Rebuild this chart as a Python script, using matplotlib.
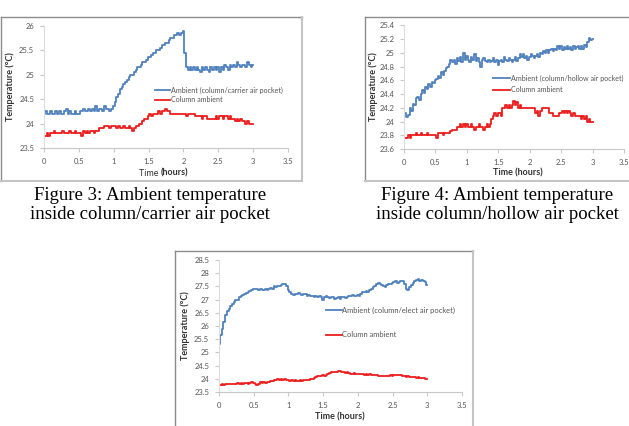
import numpy as np
import matplotlib.pyplot as plt
from matplotlib.lines import Line2D

# sampling grid (hours), 0.025 h step
t = np.round(np.arange(121) * 0.025, 3)

# Figure 3: column / carrier air pocket
carrier_pocket = [
    24.2, 24.25, 24.2, 24.2, 24.25, 24.2, 24.2, 24.25, 24.2, 24.25,
    24.2, 24.2, 24.25, 24.3, 24.2, 24.25, 24.2, 24.2, 24.25, 24.2,
    24.2, 24.25, 24.25, 24.3, 24.25, 24.25, 24.3, 24.25, 24.3, 24.25,
    24.35, 24.25, 24.3, 24.3, 24.25, 24.35, 24.3, 24.3, 24.25, 24.3,
    24.35, 24.45, 24.55, 24.6, 24.7, 24.75, 24.8, 24.85, 24.9, 24.95,
    25.0, 25.0, 25.05, 25.1, 25.15, 25.15, 25.2, 25.25, 25.25, 25.3,
    25.35, 25.35, 25.4, 25.45, 25.45, 25.5, 25.5, 25.55, 25.6, 25.6,
    25.65, 25.65, 25.7, 25.75, 25.75, 25.8, 25.8, 25.85, 25.8, 25.85,
    25.9, 25.45, 25.15, 25.1, 25.15, 25.1, 25.15, 25.1, 25.15, 25.1,
    25.05, 25.15, 25.1, 25.15, 25.1, 25.05, 25.15, 25.1, 25.15, 25.1,
    25.15, 25.05, 25.15, 25.1, 25.2, 25.15, 25.1, 25.2, 25.15, 25.2,
    25.15, 25.25, 25.2, 25.15, 25.2, 25.2, 25.15, 25.25, 25.2, 25.15,
    25.2]
column_3 = [
    23.75, 23.75, 23.8, 23.75, 23.8, 23.8, 23.85, 23.8, 23.8, 23.8,
    23.8, 23.85, 23.8, 23.8, 23.8, 23.85, 23.8, 23.8, 23.85, 23.8,
    23.8, 23.8, 23.75, 23.85, 23.8, 23.85, 23.8, 23.85, 23.85, 23.8,
    23.85, 23.85, 23.9, 23.9, 23.9, 23.95, 23.95, 23.95, 23.9, 23.95,
    23.95, 23.95, 23.9, 23.95, 23.9, 23.9, 23.95, 23.9, 23.9, 23.95,
    23.9, 23.85, 23.9, 23.95, 23.95, 24.0, 24.0, 24.05, 24.1, 24.1,
    24.15, 24.2, 24.15, 24.2, 24.2, 24.2, 24.25, 24.2, 24.25, 24.25,
    24.3, 24.25, 24.25, 24.2, 24.2, 24.2, 24.2, 24.2, 24.2, 24.2,
    24.2, 24.2, 24.15, 24.2, 24.2, 24.2, 24.2, 24.15, 24.15, 24.15,
    24.15, 24.1, 24.15, 24.15, 24.1, 24.1, 24.1, 24.1, 24.1, 24.15,
    24.1, 24.15, 24.15, 24.1, 24.15, 24.15, 24.1, 24.15, 24.1, 24.1,
    24.05, 24.1, 24.05, 24.1, 24.05, 24.05, 24.0, 24.05, 24.0, 24.0,
    24.0]

# Figure 4: column / hollow air pocket
hollow_pocket = [
    24.12, 24.12, 24.06, 24.1, 24.2, 24.16, 24.26, 24.24, 24.34, 24.36,
    24.32, 24.4, 24.46, 24.42, 24.5, 24.48, 24.54, 24.5, 24.58, 24.56,
    24.6, 24.62, 24.66, 24.64, 24.72, 24.68, 24.74, 24.78, 24.8, 24.84,
    24.9, 24.86, 24.9, 24.84, 24.92, 24.88, 24.94, 24.86, 25.0, 24.9,
    24.96, 24.9, 24.86, 24.94, 24.9, 24.98, 24.88, 24.92, 24.86, 24.8,
    24.9, 24.92, 24.88, 24.86, 24.9, 24.86, 24.88, 24.92, 24.86, 24.9,
    24.82, 24.88, 24.9, 24.86, 24.94, 24.9, 24.88, 24.92, 24.9, 24.86,
    24.9, 24.94, 24.88, 24.92, 24.98, 24.94, 24.98, 24.92, 24.96, 24.9,
    24.94, 24.98, 24.96, 24.92, 24.96, 24.98, 24.94, 25.0, 24.98, 25.02,
    25.0, 25.04, 25.0, 25.04, 25.06, 25.02, 25.06, 25.04, 25.1, 25.06,
    25.1, 25.04, 25.08, 25.06, 25.1, 25.06, 25.08, 25.04, 25.1, 25.06,
    25.08, 25.1, 25.06, 25.1, 25.06, 25.12, 25.08, 25.16, 25.22, 25.18,
    25.2]
column_4 = [
    23.76, 23.76, 23.76, 23.8, 23.76, 23.8, 23.8, 23.8, 23.84, 23.8,
    23.8, 23.84, 23.8, 23.8, 23.8, 23.84, 23.8, 23.8, 23.8, 23.8,
    23.8, 23.76, 23.84, 23.84, 23.84, 23.8, 23.84, 23.84, 23.84, 23.84,
    23.86, 23.88, 23.88, 23.88, 23.92, 23.92, 23.96, 23.92, 23.96, 23.92,
    23.96, 23.92, 23.92, 23.96, 23.92, 23.88, 23.92, 23.92, 23.96, 23.92,
    23.92, 23.88, 23.92, 23.96, 23.92, 23.96, 24.04, 24.08, 24.12, 24.08,
    24.12, 24.12, 24.08, 24.2, 24.2, 24.24, 24.2, 24.24, 24.2, 24.24,
    24.3, 24.24, 24.28, 24.2, 24.24, 24.2, 24.2, 24.2, 24.2, 24.2,
    24.2, 24.2, 24.2, 24.2, 24.12, 24.16, 24.08, 24.16, 24.2, 24.2,
    24.2, 24.2, 24.2, 24.12, 24.12, 24.08, 24.08, 24.08, 24.08, 24.12,
    24.12, 24.16, 24.12, 24.16, 24.12, 24.16, 24.12, 24.08, 24.12, 24.08,
    24.08, 24.08, 24.08, 24.04, 24.08, 24.04, 24.08, 24.0, 24.04, 24.0,
    24.0]

# Figure 5: column / elect air pocket
elect_pocket = [
    25.3, 25.65, 25.9, 26.15, 26.4, 26.55, 26.65, 26.75, 26.85, 26.9,
    26.98, 27.0, 27.08, 27.12, 27.18, 27.22, 27.25, 27.3, 27.32, 27.35,
    27.4, 27.42, 27.4, 27.38, 27.42, 27.38, 27.35, 27.4, 27.35, 27.4,
    27.45, 27.42, 27.5, 27.48, 27.52, 27.5, 27.55, 27.58, 27.6, 27.5,
    27.38, 27.3, 27.22, 27.18, 27.22, 27.2, 27.25, 27.2, 27.18, 27.22,
    27.2, 27.15, 27.18, 27.12, 27.15, 27.1, 27.12, 27.08, 27.12, 27.1,
    27.0, 27.08, 27.12, 27.1, 27.05, 27.1, 27.08, 27.02, 27.05, 27.08,
    27.04, 27.08, 27.1, 27.06, 27.1, 27.15, 27.12, 27.18, 27.15, 27.12,
    27.18, 27.15, 27.22, 27.3, 27.28, 27.32, 27.3, 27.38, 27.42, 27.48,
    27.5, 27.58, 27.62, 27.58, 27.55, 27.5, 27.48, 27.55, 27.6, 27.58,
    27.62, 27.65, 27.7, 27.62, 27.68, 27.7, 27.72, 27.6, 27.42, 27.38,
    27.48, 27.55, 27.62, 27.7, 27.75, 27.78, 27.72, 27.75, 27.72, 27.68,
    27.55]
column_5 = [
    23.75, 23.75, 23.8, 23.78, 23.8, 23.82, 23.8, 23.82, 23.82, 23.8,
    23.82, 23.84, 23.82, 23.84, 23.82, 23.84, 23.84, 23.82, 23.84, 23.86,
    23.84, 23.82, 23.76, 23.82, 23.86, 23.84, 23.86, 23.84, 23.86, 23.88,
    23.9, 23.92, 23.94, 23.96, 23.98, 23.96, 23.98, 23.96, 23.98, 23.96,
    23.94, 23.92, 23.94, 23.92, 23.94, 23.92, 23.9, 23.94, 23.92, 23.94,
    23.96, 23.94, 23.96, 23.98, 24.0, 24.02, 24.08, 24.1, 24.12, 24.1,
    24.14, 24.12, 24.16, 24.2, 24.22, 24.24, 24.26, 24.24, 24.26, 24.28,
    24.3, 24.26, 24.24, 24.22, 24.24, 24.22, 24.2, 24.2, 24.22, 24.2,
    24.2, 24.18, 24.2, 24.18, 24.16, 24.18, 24.16, 24.18, 24.16, 24.14,
    24.16, 24.14, 24.12, 24.1, 24.12, 24.1, 24.12, 24.1, 24.12, 24.14,
    24.12, 24.14, 24.16, 24.14, 24.16, 24.14, 24.12, 24.1, 24.08, 24.1,
    24.06, 24.08, 24.06, 24.08, 24.04, 24.06, 24.04, 24.02, 24.02, 24.0,
    24.0]

x_ticks = [0, 0.5, 1, 1.5, 2, 2.5, 3, 3.5]
x_labels = ['0', '0.5', '1', '1.5', '2', '2.5', '3', '3.5']
y_ticks_3 = [23.5, 24, 24.5, 25, 25.5, 26]
y_ticks_4 = [23.6, 23.8, 24, 24.2, 24.4, 24.6, 24.8, 25, 25.2, 25.4]
y_ticks_5 = [23.5, 24, 24.5, 25, 25.5, 26, 26.5, 27, 27.5, 28, 28.5]

BLUE = '#4f81bd'
RED = '#ee1c1c'
W, H = 629, 426

plt.rcParams['font.family'] = ['Lato', 'DejaVu Sans']
fig = plt.figure(figsize=(6.29, 4.26), dpi=100)


def px(x0, y0, x1, y1):
    # pixel box (top-left origin) -> figure fraction rect
    return [x0 / W, 1 - y1 / H, (x1 - x0) / W, (y1 - y0) / H]


def frame(x0, y0, x1, y1):
    xs = [x0 / W, x1 / W]
    ys = [1 - y0 / H, 1 - y1 / H]
    fig.add_artist(Line2D([xs[0], xs[1]], [ys[0], ys[0]], color='#8c8c8c', lw=1))
    fig.add_artist(Line2D([xs[0], xs[0]], [ys[0], ys[1]], color='#8c8c8c', lw=1))
    fig.add_artist(Line2D([xs[1], xs[1]], [ys[0], ys[1]], color='#c4c4c4', lw=1.5))
    fig.add_artist(Line2D([xs[0], xs[1]], [ys[1], ys[1]], color='#c4c4c4', lw=1.5))


def panel(box, blue, red, yticks, ylabels, blue_name, leg_xy, leg_space, leg_fs, leg_hl):
    ax = fig.add_axes(px(*box))
    ax.plot(t, blue, color=BLUE, lw=1.3, drawstyle='steps-mid', label=blue_name)
    ax.plot(t, red, color=RED, lw=1.3, drawstyle='steps-mid', label='Column ambient')
    ax.set_xlim(0, 3.5)
    ax.set_ylim(yticks[0], yticks[-1])
    ax.set_xticks(x_ticks)
    ax.set_xticklabels(x_labels)
    ax.set_yticks(yticks)
    ax.set_yticklabels(ylabels)
    for s in ['top', 'right']:
        ax.spines[s].set_visible(False)
    ax.spines['bottom'].set_color('#c8c8c8')
    ax.spines['left'].set_color('#dcdcdc')
    ax.tick_params(length=3, width=0.8, color='#c8c8c8', labelsize=5.5,
                   labelcolor='#555555', pad=4)
    ax.patch.set_alpha(0)
    leg = ax.legend(loc='center left', bbox_to_anchor=(leg_xy[0] / W, 1 - leg_xy[1] / H),
                    bbox_transform=fig.transFigure, frameon=False, fontsize=leg_fs,
                    handlelength=leg_hl, handletextpad=0.1, borderpad=0,
                    borderaxespad=0, labelspacing=leg_space)
    for txt in leg.get_texts():
        txt.set_color('#555555')
    return ax


panel((44, 25.7, 288, 148), carrier_pocket, column_3, y_ticks_3,
      ['23.5', '24', '24.5', '25', '25.5', '26'],
      'Ambient (column/carrier air pocket)', (155, 95), 0.3, 5.1, 2.1)
panel((404, 25.3, 624, 149), hollow_pocket, column_4, y_ticks_4,
      ['23.6', '23.8', '24', '24.2', '24.4', '24.6', '24.8', '25', '25.2', '25.4'],
      'Ambient (column/hollow air pocket)', (493, 84), 0.65, 5.1, 2.4)
panel((219, 260, 462, 392), elect_pocket, column_5, y_ticks_5,
      ['23.5', '24', '24.5', '25', '25.5', '26', '26.5', '27', '27.5', '28', '28.5'],
      'Ambient (column/elect air pocket)', (326, 322.5), 2.3, 5.4, 2.1)

frame(1, 17, 302, 181)
frame(365, 17, 660, 181)
frame(175, 251, 473, 460)

# axis titles
lab = dict(fontsize=6.5, color='#333333', fontweight='bold')
fig.text(10 / W, 1 - 87 / H, 'Temperature (°C)', rotation=90, ha='center', va='center', **lab)
fig.text(373 / W, 1 - 87 / H, 'Temperature (°C)', rotation=90, ha='center', va='center', **lab)
fig.text(185 / W, 1 - 326 / H, 'Temperature (°C)', rotation=90, ha='center', va='center', **lab)
fig.text(161 / W, 1 - 173 / H, 'Time ', ha='right', va='center', fontsize=6.5, color='#333333')
fig.text(161 / W, 1 - 173 / H, '(hours)', ha='left', va='center', **lab)
fig.text(518 / W, 1 - 173 / H, 'Time (hours)', ha='center', va='center', **lab)
fig.text(340 / W, 1 - 417 / H, 'Time (hours)', ha='center', va='center', **lab)

# captions
cap = dict(family='Liberation Serif', fontsize=13.5, ha='center', va='center', color='black')
fig.text(150 / W, 1 - 196 / H, 'Figure 3: Ambient temperature', **cap)
fig.text(150 / W, 1 - 214 / H, 'inside column/carrier air pocket', **cap)
fig.text(497 / W, 1 - 196 / H, 'Figure 4: Ambient temperature', **cap)
fig.text(497 / W, 1 - 214 / H, 'inside column/hollow air pocket', **cap)

fig.savefig('out.png', dpi=100)
